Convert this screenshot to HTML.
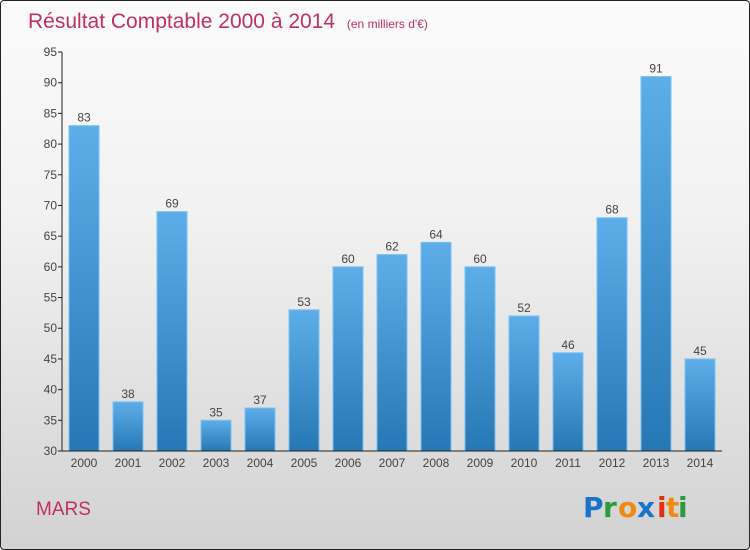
<!DOCTYPE html>
<html><head><meta charset="utf-8"><style>
body{margin:0;}
#wrap{position:relative;width:748px;height:548px;border:1px solid #222;border-radius:4px;background:linear-gradient(#fbfbfb,#f1f1f1 40%,#d2d2d2);overflow:hidden;font-family:"Liberation Sans",sans-serif;}
svg{position:absolute;left:0;top:0;}
</style></head><body>
<div id="wrap">
<svg id="c" width="750" height="550">
<defs><linearGradient id="bg" x1="0" y1="0" x2="0" y2="1"><stop offset="0" stop-color="#5daee8"/><stop offset="1" stop-color="#2677b5"/></linearGradient></defs>
<text x="27" y="27" font-size="21" fill="#c0305e">Résultat Comptable 2000 à 2014 <tspan font-size="12" dx="6">(en milliers d'€)</tspan></text>
<text x="35" y="514" font-size="19" fill="#c0305e">MARS</text>
<g font-size="28" font-family="'DejaVu Sans',sans-serif" font-weight="bold">
<text x="582" y="516" fill="#1a73c9">P</text><text x="602" y="516" fill="#2a9a3a">r</text><text x="617" y="516" fill="#f08a10">o</text><text x="636" y="516" fill="#1a73c9">x</text><text x="656" y="516" fill="#e03010">i</text><text x="665" y="516" fill="#f08a10">t</text><text x="677" y="516" fill="#2a9a3a">i</text>
</g>
<g id="plot"></g>
</svg>
</div>
<script>
const years=["2000","2001","2002","2003","2004","2005","2006","2007","2008","2009","2010","2011","2012","2013","2014"];
const values=[83,38,69,35,37,53,60,62,64,60,52,46,68,91,45];
const ticks=[30,35,40,45,50,55,60,65,70,75,80,85,90,95];
const NS="http://www.w3.org/2000/svg";
const g=document.getElementById('plot');
const y0=450,y1=51,vmin=30,vmax=95,xl=61,xr=721;
const y=v=>y0-(v-vmin)/(vmax-vmin)*(y0-y1);
const step=(xr-xl)/years.length;
const x=i=>xl+step*(i+0.5);
function mk(t,a,p){const e=document.createElementNS(NS,t);for(const k in a)e.setAttribute(k,a[k]);(p||g).appendChild(e);return e;}
ticks.forEach(t=>{
 const l=mk('line',{x1:xl-4,x2:xl,y1:y(t),y2:y(t),stroke:'#222'});
 
 
 const tx=mk('text',{x:xl-5,y:y(t)+4,'text-anchor':'end','font-size':12,fill:'#444'});
 tx.textContent=t;
 
 
});
values.forEach((v,i)=>{
 const r=mk('rect',{x:x(i)-15,y:y(v),width:30,height:y0-y(v),fill:'url(#bg)',stroke:'#7cc0f0','stroke-width':1});
 
 
 const lb=mk('text',{x:x(i),y:y(v)-4,'text-anchor':'middle','font-size':12,fill:'#444'});
 lb.textContent=v;
 
 
 const xt=mk('text',{x:x(i),y:y0+16,'text-anchor':'middle','font-size':12,fill:'#444'});
 xt.textContent=years[i];
 
 
});
const ya=mk('line',{x1:xl,x2:xl,y1:y1,y2:y0,stroke:'#222'});


const xa=mk('line',{x1:xl,x2:xr,y1:y0,y2:y0,stroke:'#222'});


</script>
</body></html>
